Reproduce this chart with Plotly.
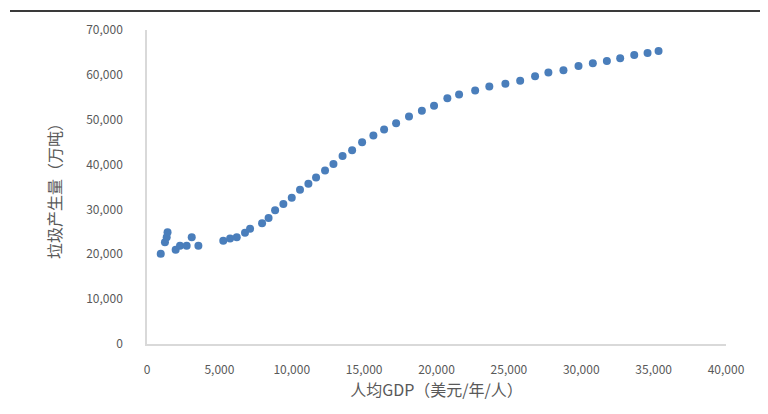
import plotly.graph_objects as go

gdp_per_capita = [950, 1240, 1360, 1420, 1980, 2280, 2740, 3090, 3550,
                  5270, 5740, 6200, 6770, 7120, 7950, 8400, 8850, 9420,
                  10000, 10570, 11150, 11680, 12300, 12880, 13510, 14170,
                  14860, 15640, 16380, 17210, 18100, 18990, 19830, 20750,
                  21560, 22670, 23650, 24760, 25780, 26810, 27730, 28770,
                  29810, 30800, 31770, 32690, 33660, 34580, 35340]
waste_output = [20100, 22700, 23800, 24900, 21000, 21900, 21900, 23800, 21900,
                23000, 23500, 23800, 24800, 25700, 26900, 28100, 29800, 31200,
                32600, 34400, 35700, 37100, 38700, 40100, 41900, 43200,
                45000, 46500, 47800, 49200, 50700, 52000, 53100, 54800,
                55600, 56500, 57400, 58000, 58700, 59700, 60500, 61000,
                62000, 62600, 63100, 63700, 64400, 64900, 65300]

x_tick_vals = [0, 5000, 10000, 15000, 20000, 25000, 30000, 35000, 40000]
y_tick_vals = [0, 10000, 20000, 30000, 40000, 50000, 60000, 70000]

FONT = "Noto Sans CJK SC"
GRAY = "#595959"

fig = go.Figure()
fig.add_trace(go.Scatter(
    x=gdp_per_capita, y=waste_output, mode="markers",
    marker=dict(color="#4a7ebb", size=8, line=dict(width=0)),
    showlegend=False,
))

fig.update_layout(
    width=768, height=414,
    margin=dict(l=139, r=50, t=20, b=78),
    paper_bgcolor="white", plot_bgcolor="white",
    font=dict(family=FONT, size=12, color=GRAY),
    xaxis=dict(
        range=[0, 40000], tickvals=x_tick_vals, tickformat=",d",
        showgrid=False, zeroline=False, showline=True,
        linecolor="#d9d9d9", linewidth=1.5,
        ticks="", ticklabelstandoff=14,
        title=dict(text="人均GDP（美元/年/人）", font=dict(size=16, color=GRAY), standoff=8),
    ),
    yaxis=dict(
        range=[0, 70000], tickvals=y_tick_vals, tickformat=",d",
        showgrid=False, zeroline=False, showline=True,
        linecolor="#d9d9d9", linewidth=1.5,
        ticks="", ticklabelstandoff=20,
        title=dict(text="垃圾产生量（万吨）", font=dict(size=16, color=GRAY), standoff=21),
    ),
    shapes=[dict(type="line", xref="paper", yref="paper",
                 x0=-137/579, x1=(768-139)/579, y0=1 + 19/316, y1=1 + 19/316,
                 line=dict(color="#3a3a3a", width=2))],
)

fig.write_html("out.html")
